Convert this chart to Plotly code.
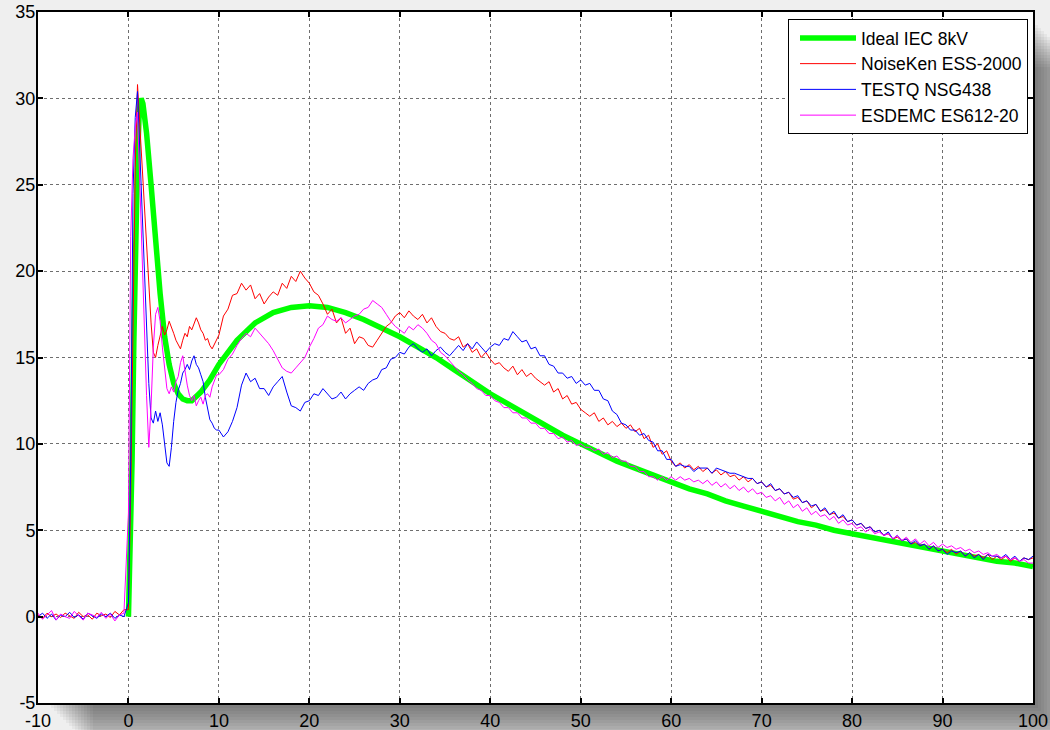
import numpy as np
import plotly.graph_objects as go

# ---- sampling grids (ns) ----
t_pre = np.arange(-10.0, 0.0, 0.5)        # 20 samples before the discharge
t_front = np.arange(0.0, 10.0, 0.25)      # 40 samples over the initial peak
t_tail = np.arange(10.0, 100.01, 0.5)     # 181 samples for the slow part

# ---- Ideal IEC 8kV waveform (A) ----
ideal_t = [0, 0.2, 0.4, 0.6, 0.8, 1.0, 1.2, 1.4, 1.6, 1.8, 2.0, 2.5, 3.0, 3.5, 4.0, 4.5,
           5.0, 5.5, 6.0, 6.5, 7.0, 7.5, 8, 9, 10, 11, 12, 14, 16, 18, 20, 22, 24, 26,
           28, 30, 32, 34, 36, 38, 40, 42, 44, 46, 48, 50, 52, 54, 56, 58, 60, 62, 64,
           66, 68, 70, 72, 74, 76, 78, 80, 82, 84, 86, 88, 90, 92, 94, 96, 98, 100]
ideal_i = [0, 4, 9, 16, 22, 26.5, 29.3, 30, 29.7, 29, 28, 25, 21.6, 18.7, 16.2, 14.6,
           13.5, 12.9, 12.6, 12.5, 12.5, 12.7, 13.0, 13.7, 14.6, 15.3, 16.0, 17.0, 17.6,
           17.9, 18.0, 17.9, 17.6, 17.2, 16.7, 16.2, 15.6, 15.0, 14.3, 13.6, 12.9, 12.3,
           11.7, 11.1, 10.5, 10.0, 9.5, 9.0, 8.6, 8.2, 7.8, 7.4, 7.1, 6.7, 6.4, 6.1, 5.8,
           5.5, 5.3, 5.0, 4.8, 4.6, 4.4, 4.2, 4.0, 3.8, 3.6, 3.4, 3.2, 3.1, 2.9]

# ---- NoiseKen ESS-2000 (A) ----
noiseken_pre = [0.1, -0.1, 0.2, 0.0, 0.15, -0.05, 0.2, 0.05, -0.1, 0.25,
                0.0, 0.1, -0.15, 0.2, 0.05, 0.15, -0.05, 0.3, 0.1, 0.4]
noiseken_front = [0.4, 7, 17, 26, 30.8, 28.5, 25.7, 24.0, 21.2, 19.5,
                  17.0, 15.3, 15.0, 15.7, 16.2, 16.8, 16.3, 16.6, 17.1, 16.8,
                  16.4, 16.0, 15.7, 15.5, 16.0, 16.4, 16.2, 16.8, 16.6, 17.0,
                  17.3, 17.0, 16.6, 16.4, 16.0, 16.1, 15.7, 15.5, 15.8, 16.1]
noiseken_tail = [
    16.3, 17.4, 17.8, 18.6, 18.7, 19.3, 18.9, 19.2, 18.4, 18.7, 18.1, 18.5, 18.8, 18.6, 19.3, 19.0, 19.7, 19.4, 20.0, 19.6,
    19.3, 18.8, 18.6, 18.1, 17.5, 17.8, 17.0, 17.3, 16.4, 16.7, 15.8, 16.2, 16.1, 15.7, 15.6, 16.0, 16.4, 16.8, 17.0, 17.4,
    17.6, 17.3, 17.7, 17.4, 17.2, 17.5, 17.0, 17.3, 16.8, 16.5, 16.4, 16.1, 16.0, 16.2, 15.6, 15.8, 15.3, 15.5, 15.0, 15.3,
    14.9, 14.6, 14.7, 14.4, 14.2, 14.5, 14.0, 14.3, 13.9, 14.1, 13.8, 13.6, 13.4, 13.6, 13.0, 13.2, 12.6, 12.8, 12.3, 12.4,
    12.0, 11.8, 11.6, 11.8, 11.3, 11.5, 11.1, 11.3, 11.0, 11.2, 10.9, 11.1, 10.7, 10.9, 10.3, 10.5, 9.8, 10.0, 9.4, 9.6,
    9.0, 8.7, 8.9, 8.6, 8.8, 8.5, 8.7, 8.4, 8.6, 8.3, 8.5, 8.2, 8.4, 8.1, 8.2, 7.9, 8.1, 7.8, 8.0, 7.7,
    7.8, 7.5, 7.6, 7.3, 7.4, 7.1, 7.2, 6.8, 6.9, 6.6, 6.7, 6.3, 6.5, 6.1, 6.2, 5.9, 6.0, 5.7, 5.8, 5.5,
    5.6, 5.3, 5.4, 5.1, 5.2, 4.9, 5.0, 4.7, 4.8, 4.5, 4.6, 4.4, 4.5, 4.2, 4.3, 4.1, 4.2, 3.9, 4.1, 3.8,
    3.9, 3.7, 3.9, 3.6, 3.8, 3.5, 3.7, 3.5, 3.6, 3.4, 3.6, 3.3, 3.5, 3.3, 3.5, 3.2, 3.4, 3.2, 3.4, 3.3,
    3.4]

# ---- TESTQ NSG438 (A) ----
testq_pre = [0.0, 0.2, -0.1, 0.15, -0.2, 0.1, 0.0, 0.25, -0.05, 0.1,
             -0.15, 0.2, 0.05, -0.1, 0.15, 0.0, 0.2, -0.1, 0.1, 0.0]
testq_front = [0.8, 9, 24.5, 28.9, 30.4, 27, 23.5, 20.5, 17.5, 13.5,
               11.5, 11.2, 11.9, 11.3, 11.8, 11.1, 10.0, 8.9, 8.7, 9.8,
               11.3, 12.4, 13.1, 13.5, 14.1, 14.3, 14.6, 14.3, 14.8, 15.1,
               14.6, 14.4, 14.0, 13.6, 12.7, 12.1, 11.4, 11.2, 10.9, 10.8]
testq_tail = [
    10.8, 10.4, 10.7, 11.3, 12.1, 13.4, 14.1, 13.6, 13.8, 13.2, 13.2, 12.8, 13.3, 13.6, 13.9, 13.0, 12.2, 12.1, 11.9, 12.4,
    12.5, 12.9, 12.8, 13.2, 12.9, 12.6, 12.7, 13.0, 12.6, 12.9, 13.1, 13.3, 13.1, 13.5, 13.7, 13.8, 14.3, 14.4, 14.9, 15.0,
    15.3, 15.2, 15.6, 15.8, 15.5, 15.3, 15.5, 15.1, 15.4, 15.6, 15.3, 15.1, 15.4, 15.7, 15.4, 15.8, 15.5, 15.9, 15.6, 15.3,
    15.6, 15.8, 15.7, 16.1, 16.0, 16.5, 16.2, 15.9, 16.0, 15.5, 15.6, 15.1, 15.1, 14.6, 14.5, 14.1, 14.1, 13.8, 13.9, 13.5,
    13.7, 13.4, 13.5, 13.1, 13.1, 12.6, 12.5, 11.9, 11.7, 11.2, 11.1, 10.8, 10.8, 10.5, 10.6, 10.2, 10.1, 9.6, 9.6, 9.1,
    9.1, 8.7, 8.8, 8.7, 8.7, 8.4, 8.6, 8.6, 8.6, 8.3, 8.6, 8.5, 8.4, 8.3, 8.3, 8.2, 8.1, 8.0, 8.0, 7.7,
    7.8, 7.5, 7.7, 7.3, 7.4, 7.1, 7.2, 6.9, 7.0, 6.6, 6.7, 6.4, 6.5, 6.1, 6.3, 5.9, 6.1, 5.7, 5.9, 5.5,
    5.6, 5.3, 5.4, 5.1, 5.2, 4.9, 5.0, 4.7, 4.9, 4.5, 4.7, 4.4, 4.5, 4.2, 4.4, 4.1, 4.2, 3.9, 4.1, 3.8,
    3.9, 3.6, 3.8, 3.7, 3.8, 3.5, 3.7, 3.4, 3.6, 3.3, 3.6, 3.5, 3.5, 3.4, 3.6, 3.3, 3.5, 3.2, 3.4, 3.3,
    3.5]

# ---- ESDEMC ES612-20 (A) ----
esdemc_pre = [0.2, -0.15, 0.1, 0.35, -0.2, 0.15, 0.0, -0.1, 0.3, 0.05,
              -0.2, 0.2, 0.1, -0.05, 0.25, -0.1, 0.15, -0.25, 0.1, 0.2]
esdemc_front = [6, 22, 26.5, 28.3, 29.2, 25.2, 20.6, 16.4, 12.8, 9.8,
                12.2, 15.6, 17.5, 17.9, 17.1, 15.6, 14.4, 13.2, 12.9, 13.3,
                13.0, 13.6, 13.9, 14.7, 15.1, 14.2, 13.4, 12.8, 12.5, 12.8,
                12.2, 12.5, 12.7, 12.3, 12.8, 12.9, 12.7, 13.3, 13.6, 14.0]
esdemc_tail = [
    14.0, 14.3, 14.9, 15.2, 15.7, 16.1, 16.4, 16.2, 16.7, 16.4, 16.1, 15.8, 15.4, 14.9, 14.4, 14.2, 14.1, 14.4, 14.7, 15.0,
    15.6, 16.1, 16.7, 16.9, 17.4, 17.2, 17.1, 17.3, 17.0, 17.2, 17.4, 17.5, 17.8, 17.9, 18.3, 18.1, 17.9, 17.5, 17.1, 16.8,
    16.6, 16.4, 16.8, 16.6, 16.9, 16.7, 16.4, 16.0, 15.8, 15.3, 15.1, 14.8, 14.5, 14.2, 14.0, 13.7, 13.5, 13.2, 13.1, 12.8,
    12.8, 12.5, 12.4, 12.1, 12.1, 11.8, 11.8, 11.5, 11.5, 11.2, 11.2, 10.9, 10.9, 10.6, 10.6, 10.3, 10.4, 10.1, 10.2, 9.9,
    10.0, 9.8, 9.8, 9.6, 9.7, 9.4, 9.5, 9.2, 9.3, 9.0, 9.0, 8.7, 8.7, 8.4, 8.4, 8.1, 8.1, 7.9, 8.1, 7.9,
    8.1, 7.9, 8.1, 7.9, 8.0, 7.8, 7.9, 7.7, 7.9, 7.6, 7.8, 7.5, 7.7, 7.4, 7.6, 7.3, 7.5, 7.2, 7.4, 7.1,
    7.2, 6.9, 7.0, 6.7, 6.9, 6.5, 6.7, 6.3, 6.5, 6.1, 6.3, 5.9, 6.1, 5.8, 5.9, 5.6, 5.8, 5.4, 5.6, 5.3,
    5.4, 5.1, 5.2, 4.9, 5.1, 4.8, 4.9, 4.7, 4.8, 4.5, 4.7, 4.4, 4.6, 4.3, 4.5, 4.2, 4.4, 4.1, 4.3, 4.0,
    4.2, 4.0, 4.1, 3.9, 4.0, 3.8, 3.9, 3.7, 3.8, 3.6, 3.7, 3.5, 3.6, 3.4, 3.5, 3.3, 3.4, 3.2, 3.3, 3.1,
    3.1]

x_ticks = list(range(-10, 101, 10))
y_ticks = list(range(-5, 36, 5))
x_labels = [str(v) for v in x_ticks]      # plain hyphen-minus labels
y_labels = [str(v) for v in y_ticks]

series = [
    ("NoiseKen ESS-2000", "#ff0000", noiseken_pre, noiseken_front, noiseken_tail),
    ("TESTQ NSG438", "#0000ff", testq_pre, testq_front, testq_tail),
    ("ESDEMC ES612-20", "#ff00ff", esdemc_pre, esdemc_front, esdemc_tail),
]

t_all = np.concatenate([t_pre, t_front, t_tail])

fig = go.Figure()
fig.add_trace(go.Scatter(x=ideal_t, y=ideal_i, mode="lines", name="Ideal IEC 8kV",
                         line=dict(color="#00ff00", width=5.5)))
for name, color, pre, front, tail in series:
    fig.add_trace(go.Scatter(x=t_all, y=pre + front + tail, mode="lines", name=name,
                             line=dict(color=color, width=1)))

# ---- frame geometry in pixels ----
W, H = 1050, 730
L, R, T, B = 38, 17, 12, 27
pw, ph = W - L - R, H - T - B


def px(x):
    return (x - L) / pw


def py(y):
    return (H - B - y) / ph


shapes = []
# soft drop shadow toward the lower right of the axes box
for i in range(16):
    a = 10 + 3 * i
    b = 2 + 3 * i
    shapes.append(dict(type="rect", xref="paper", yref="paper", layer="below",
                       x0=px(L + a), x1=px(W - R + b), y0=py(H - B + b), y1=py(T + a),
                       fillcolor="rgba(0,0,0,0.04)", line=dict(width=0)))
# white axes area on top of the shadow
shapes.append(dict(type="rect", xref="paper", yref="paper", layer="below",
                   x0=0, x1=1, y0=0, y1=1, fillcolor="white", line=dict(width=0)))

axis_common = dict(
    showline=True, linecolor="black", linewidth=2, mirror="ticks",
    ticks="inside", ticklen=5, tickwidth=1.5, tickcolor="black",
    showgrid=True, gridcolor="#6e6e6e", gridwidth=1, griddash="dot",
    zeroline=False, automargin=False,
    tickfont=dict(family="Liberation Sans, Arial", size=18, color="black"),
)

fig.update_layout(
    width=W, height=H,
    margin=dict(l=L, r=R, t=T, b=B, pad=0, autoexpand=False),
    paper_bgcolor="#efefef", plot_bgcolor="white",
    shapes=shapes,
    showlegend=True,
    legend=dict(x=px(1028), y=py(19), xanchor="right", yanchor="top",
                bgcolor="white", bordercolor="black", borderwidth=1,
                font=dict(family="Liberation Sans, Arial", size=17.5, color="black"),
                itemwidth=56, indentation=6, tracegroupgap=0),
)
fig.update_xaxes(range=[-10, 100], tickvals=x_ticks, ticktext=x_labels,
                 ticklabelstandoff=0, **axis_common)
fig.update_yaxes(range=[-5, 35], tickvals=y_ticks, ticktext=y_labels,
                 ticklabelstandoff=-3, **axis_common)

fig.write_html("out.html")
